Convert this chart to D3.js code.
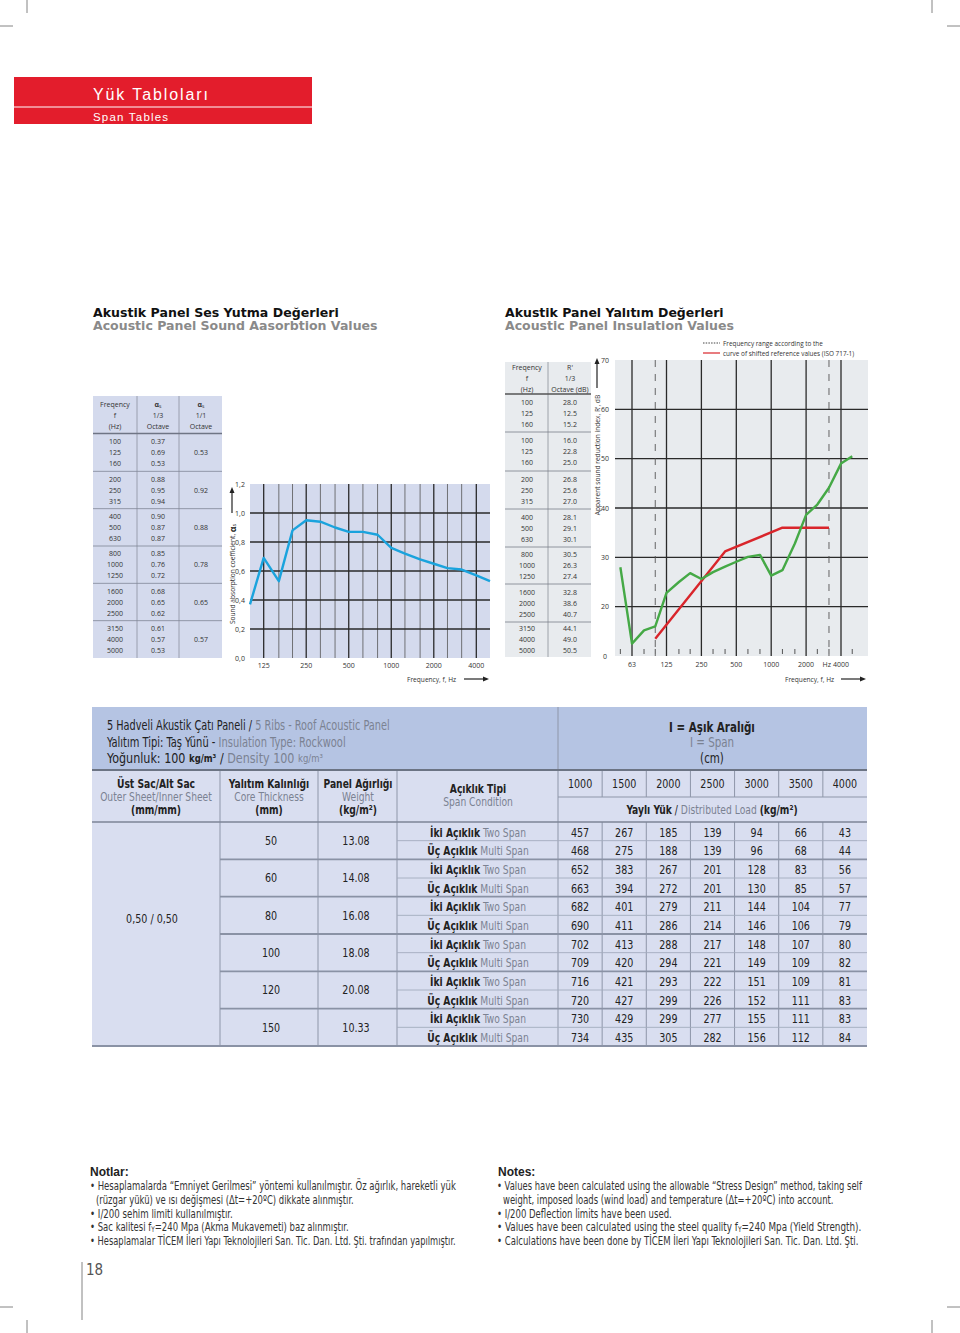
<!DOCTYPE html>
<html><head><meta charset="utf-8">
<script src="https://cdn.jsdelivr.net/npm/d3@7"></script>
<style>body{margin:0;background:#fff}svg{display:block}</style>
</head><body>
<script>
// ---------------- DATA ----------------
const absFreq=[100,125,160,200,250,315,400,500,630,800,1000,1250,1600,2000,2500,3150,4000,5000];
const absThird=[0.37,0.69,0.53,0.88,0.95,0.94,0.90,0.87,0.87,0.85,0.76,0.72,0.68,0.65,0.62,0.61,0.57,0.53];
const absOctave=[0.53,0.92,0.88,0.78,0.65,0.57];
const absXTicks=[125,250,500,1000,2000,4000];
const absYTicks=[0,0.2,0.4,0.6,0.8,1.0,1.2];

const insTableFreq=["100","125","160","100","125","160","200","250","315","400","500","630","800","1000","1250","1600","2000","2500","3150","4000","5000"];
const insTableR=["28.0","12.5","15.2","16.0","22.8","25.0","26.8","25.6","27.0","28.1","29.1","30.1","30.5","26.3","27.4","32.8","38.6","40.7","44.1","49.0","50.5"];
const insFreq=[50,63,80,100,125,160,200,250,315,400,500,630,800,1000,1250,1600,2000,2500,3150,4000,5000];
const insR=[28.0,12.5,15.2,16.0,22.8,25.0,26.8,25.6,27.0,28.1,29.1,30.1,30.5,26.3,27.4,32.8,38.6,40.7,44.1,49.0,50.5];
const refFreq=[100,400,1250,3150];
const refR=[13.5,31.2,36.0,36.0];
const insXTicks=[63,125,250,500,1000,2000,4000];
const insMinor=[50,80,100,160,200,315,400,630,800,1250,1600,2500,3150,5000];
const insDashed=[100,3150];
const insYTicks=[10,20,30,40,50,60,70];
const insYLabels=["0","20","30","40","50","60","70"];

const spans=[1000,1500,2000,2500,3000,3500,4000];
const thickness=[50,60,80,100,120,150];
const weights=["13.08","14.08","16.08","18.08","20.08","10.33"];
const loadTwo=[[457,267,185,139,94,66,43],[652,383,267,201,128,83,56],[682,401,279,211,144,104,77],[702,413,288,217,148,107,80],[716,421,293,222,151,109,81],[730,429,299,277,155,111,83]];
const loadMulti=[[468,275,188,139,96,68,44],[663,394,272,201,130,85,57],[690,411,286,214,146,106,79],[709,420,294,221,149,109,82],[720,427,299,226,152,111,83],[734,435,305,282,156,112,84]];

const notesTR=[
 ["• Hesaplamalarda “Emniyet Gerilmesi” yöntemi kullanılmıştır. Öz ağırlık, hareketli yük",0],
 ["(rüzgar yükü) ve ısı değişmesi (Δt=+20ºC) dikkate alınmıştır.",1],
 ["• I/200 sehim limiti kullanılmıştır.",0],
 ["• Sac kalitesi f|Y|=240 Mpa (Akma Mukavemeti) baz alınmıştır.",0],
 ["• Hesaplamalar TİCEM İleri Yapı Teknolojileri San. Tic. Dan. Ltd. Şti. trafından  yapılmıştır.",0]];
const notesEN=[
 ["• Values have been calculated using the allowable “Stress Design” method, taking self",0],
 ["weight, imposed loads (wind load) and temperature (Δt=+20ºC) into account.",1],
 ["• I/200 Deflection limits have been used.",0],
 ["• Values have been calculated using the steel quality f|Y|=240 Mpa (Yield Strength).",0],
 ["• Calculations have been done by TİCEM İleri Yapı Teknolojileri San. Tic. Dan. Ltd. Şti.",0]];

// ---------------- HELPERS ----------------
const SANS="'Open Sans','DejaVu Sans',sans-serif";
const COND="'Liberation Sans Narrow','DejaVu Sans Condensed',sans-serif";
const WIDE="'DejaVu Sans','Verdana',sans-serif";
const svg=d3.select("body").append("svg").attr("width",960).attr("height",1333);

// horizontal fit through a group transform (keeps all glyph boxes consistent)
function fit(g,x,y,t,o){
  let f=1;
  if(o.w||o.sx){const Lw=t.node().getComputedTextLength(); f=o.w?o.w/Lw:o.sx;}
  g.attr("transform",`translate(${x},${y}) scale(${f},1)`);
}
function T(p,x,y,s,o={}){
  const g=p.append("g");
  const t=g.append("text").attr("x",0).attr("y",0).text(s)
    .attr("font-family",o.ff||SANS).attr("font-size",o.fs||7)
    .attr("fill",o.fill||"#333").attr("text-anchor",o.a||"start")
    .attr("dominant-baseline","central");
  if(o.fw) t.attr("font-weight",o.fw);
  if(o.ls) t.attr("letter-spacing",o.ls);
  fit(g,x,y,t,o);
  return g;
}
function RT(p,x,y,parts,o={}){
  const g=p.append("g");
  const t=g.append("text").attr("x",0).attr("y",0)
    .attr("font-family",o.ff||COND).attr("font-size",o.fs||12)
    .attr("text-anchor",o.a||"start").attr("dominant-baseline","central");
  parts.forEach(q=>{
    const s=t.append("tspan").text(q.t).attr("fill",q.fill||"#222");
    if(q.fw) s.attr("font-weight",q.fw);
    if(q.fs) s.attr("font-size",q.fs);
    if(q.dy) s.attr("dy",q.dy);
  });
  fit(g,x,y,t,o);
  return g;
}
function L(g,x1,y1,x2,y2,c,w,da){const l=g.append("line").attr("x1",x1).attr("y1",y1).attr("x2",x2).attr("y2",y2).attr("stroke",c).attr("stroke-width",w);if(da)l.attr("stroke-dasharray",da);return l;}
function arrowR(g,x1,x2,y){L(g,x1,y,x2-5,y,"#222",1.2);g.append("path").attr("d",`M${x2},${y}L${x2-6},${y-2.5}L${x2-6},${y+2.5}Z`).attr("fill","#222");}
function arrowU(g,x,y1,y2){L(g,x,y1,x,y2+5,"#222",1.2);g.append("path").attr("d",`M${x},${y2}L${x-2.5},${y2+6}L${x+2.5},${y2+6}Z`).attr("fill","#222");}
function rotLabel(p,x,y,node){node.attr("transform",`translate(${x},${y}) rotate(-90)`);}

// ---------------- CROP MARKS ----------------
const cm=svg.append("g");
[[27,0,27,13],[0,26,13,26],[932,0,932,13],[947,26,960,26],[27,1320,27,1333],[0,1307,13,1307],[932,1320,932,1333],[947,1307,960,1307]]
 .forEach(d=>L(cm,d[0],d[1],d[2],d[3],"#666",0.8));

// ---------------- BANNER ----------------
const bn=svg.append("g");
bn.append("rect").attr("x",14).attr("y",77).attr("width",298).attr("height",47).attr("fill","#e31d2c");
L(bn,14,107,312,107,"#fff",1);
T(bn,93,94,"Yük Tabloları",{ff:"'Liberation Sans','Roboto',sans-serif",fs:16,fill:"#fff",ls:1.9});
T(bn,93,117,"Span Tables",{ff:"'Liberation Sans','Roboto',sans-serif",fs:11.5,fill:"#fff",ls:1.2});

// ---------------- TITLES ----------------
T(svg,93,313,"Akustik Panel Ses Yutma Değerleri",{ff:WIDE,fs:11.5,fw:"bold",fill:"#111",w:246});
T(svg,93,326,"Acoustic Panel Sound Aasorbtion Values",{ff:WIDE,fs:11.5,fw:"bold",fill:"#8a8a8a",w:285});
T(svg,505,313,"Akustik Panel Yalıtım Değerleri",{ff:WIDE,fs:11.5,fw:"bold",fill:"#111",w:219});
T(svg,505,326,"Acoustic Panel Insulation Values",{ff:WIDE,fs:11.5,fw:"bold",fill:"#8a8a8a",w:229});

// ---------------- ABSORPTION TABLE ----------------
const at=svg.append("g");
at.append("rect").attr("x",93).attr("y",396).attr("width",129).attr("height",262).attr("fill","#d4daed");
L(at,137,396,137,658,"#8a90a0",0.8);L(at,179,396,179,658,"#8a90a0",0.8);
L(at,93,433.5,222,433.5,"#6f7585",1.3);
const aGroupY=d3.scaleBand().domain(d3.range(6)).range([434,658]);
d3.range(1,6).forEach(i=>L(at,93,aGroupY(i),222,aGroupY(i),"#7f8595",0.8));
[["Freqency","f","(Hz)",115],["α","1/3","Octave",158],["α","1/1","Octave",201]].forEach(c=>{
  if(c[0]==="α"){RT(at,c[3],404,[{t:"α",fill:"#333",fw:"bold"},{t:"s",fs:5,dy:1.5,fill:"#333"}],{ff:SANS,fs:7,a:"middle"});}
  else T(at,c[3],404,c[0],{a:"middle"});
  T(at,c[3],415,c[1],{a:"middle"});T(at,c[3],426,c[2],{a:"middle"});
});
absFreq.forEach((f,i)=>{
  const g=Math.floor(i/3), r=i%3, y=aGroupY(g)+aGroupY.bandwidth()/2+(r-1)*11;
  T(at,115,y,String(f),{a:"middle"});
  T(at,158,y,absThird[i].toFixed(2),{a:"middle"});
});
absOctave.forEach((v,g)=>T(at,201,aGroupY(g)+aGroupY.bandwidth()/2,v.toFixed(2),{a:"middle"}));

// ---------------- ABSORPTION CHART ----------------
const ac=svg.append("g");
const xA=d3.scaleLog().domain([100,5000]).range([250,490]);
const yA=d3.scaleLinear().domain([0,1.2]).range([658,484]);
ac.append("rect").attr("x",xA(100)).attr("y",yA(1.2)).attr("width",xA(5000)-xA(100)).attr("height",yA(0)-yA(1.2)).attr("fill","#d4daed");
absFreq.filter(f=>f>=125&&f<=4000).forEach(f=>{
  const oct=absXTicks.includes(f);
  L(ac,xA(f),yA(1.2),xA(f),yA(0),oct?"#2a2a2a":"#555",oct?1.3:0.8);
});
absYTicks.filter(v=>v>0&&v<1.2).forEach(v=>L(ac,xA(100),yA(v),xA(5000),yA(v),"#2a2a2a",1.3));
absYTicks.forEach(v=>T(ac,240,yA(v),v.toFixed(1).replace(".",","),{a:"middle",fs:7}));
absXTicks.forEach(f=>T(ac,xA(f),665,String(f),{a:"middle",fs:7}));
ac.append("path").datum(absFreq.map((f,i)=>[f,absThird[i]]))
  .attr("d",d3.line().x(d=>xA(d[0])).y(d=>yA(d[1])))
  .attr("fill","none").attr("stroke","#1aa3dd").attr("stroke-width",2.4).attr("stroke-linejoin","round");
rotLabel(ac,232,574,RT(ac,0,0,[{t:"Sound absorption coefficient, ",fill:"#333"},{t:"α",fw:"bold",fs:9,fill:"#222"},{t:"s",fs:5,dy:1.5,fill:"#222"}],{ff:SANS,fs:6.6,a:"middle"}));
arrowU(ac,232,513,487);
T(ac,407,679,"Frequency, f, Hz",{fs:6.6});
arrowR(ac,464,489,679);

// ---------------- INSULATION TABLE ----------------
const it=svg.append("g");
it.append("rect").attr("x",505).attr("y",362).attr("width",86).attr("height",295).attr("fill","#e8ebee");
L(it,548,362,548,657,"#8a8f98",0.8);
const iLines=[394,432,471,509,547,584,622];
iLines.forEach((y,i)=>L(it,505,y,591,y,i===0?"#555":"#7a7f88",i===0?1.3:0.8));
T(it,527,367,"Freqency",{a:"middle"});T(it,527,378,"f",{a:"middle"});T(it,527,389,"(Hz)",{a:"middle"});
T(it,570,367,"R'",{a:"middle"});T(it,570,378,"1/3",{a:"middle"});T(it,570,389,"Octave (dB)",{a:"middle"});
insTableFreq.forEach((f,i)=>{
  const g=Math.floor(i/3), r=i%3, top=iLines[g], bot=g<6?iLines[g+1]:657;
  const y=(top+bot)/2+(r-1)*11;
  T(it,527,y,f,{a:"middle"});
  T(it,570,y,insTableR[i],{a:"middle"});
});

// ---------------- INSULATION CHART ----------------
const ic=svg.append("g");
const xB=d3.scaleLog().domain([63,4000]).range([632,841]);
const yB=d3.scaleLinear().domain([10,70]).range([656,360]);
const bx0=615,bx1=868;
ic.append("rect").attr("x",bx0).attr("y",yB(70)).attr("width",bx1-bx0).attr("height",yB(10)-yB(70)).attr("fill","#e8ebee");
insYTicks.filter(v=>v>10&&v<70).forEach(v=>L(ic,bx0,yB(v),bx1,yB(v),"#2a2a2a",1.3));
insXTicks.forEach(f=>L(ic,xB(f),yB(70),xB(f),yB(10),"#2a2a2a",1.3));
insDashed.forEach(f=>L(ic,xB(f),yB(70),xB(f),yB(10),"#555",0.9,"7,7"));
insMinor.forEach(f=>L(ic,xB(f),yB(10)-7,xB(f),yB(10)-2,"#444",0.9));
insYTicks.forEach((v,i)=>T(ic,605,yB(v),insYLabels[i],{a:"middle",fs:7}));
insXTicks.forEach(f=>T(ic,xB(f),664,String(f),{a:"middle",fs:7}));
T(ic,xB(4000)-10,664,"Hz",{a:"end",fs:7});
ic.append("path").datum(refFreq.map((f,i)=>[f,refR[i]]))
  .attr("d",d3.line().x(d=>xB(d[0])).y(d=>yB(d[1])))
  .attr("fill","none").attr("stroke","#d9252b").attr("stroke-width",2.4).attr("stroke-linejoin","round");
ic.append("path").datum(insFreq.map((f,i)=>[f,insR[i]]))
  .attr("d",d3.line().x(d=>xB(d[0])).y(d=>yB(d[1])))
  .attr("fill","none").attr("stroke","#45a946").attr("stroke-width",2.4).attr("stroke-linejoin","round");
rotLabel(ic,597,455,T(ic,0,0,"Apparent sound reduction index, R', dB",{fs:6.6,a:"middle"}));
arrowU(ic,597,388,358);
T(ic,785,679,"Frequency, f, Hz",{fs:6.6});
arrowR(ic,841,866,679);
L(ic,703,343,720,343,"#444",1,"1.5,1.2");
T(ic,723,343,"Frequency range according to the",{fs:6.4});
L(ic,703,353,720,353,"#d9252b",1.2);
T(ic,723,353,"curve of shifted reference values (ISO 717-1)",{fs:6.4});

// ---------------- LOAD TABLE ----------------
const tb=svg.append("g");
const TX0=92,TX1=867;
const colX=[92,220,318,397,558];
const xs=d3.scaleBand().domain(spans).range([558,867]);
const ry=d3.scaleBand().domain(d3.range(12)).range([822,1046]);
const GR="#7b8292", DK="#222";
tb.append("rect").attr("x",TX0).attr("y",707).attr("width",TX1-TX0).attr("height",63).attr("fill","#b5c4e3");
tb.append("rect").attr("x",TX0).attr("y",770).attr("width",TX1-TX0).attr("height",276).attr("fill","#d9def0");
const gc="#8e96a9";
L(tb,558,707,558,770,gc,1);
colX.slice(1).forEach(x=>L(tb,x,770,x,1046,gc,1));
spans.slice(1).forEach(s=>{L(tb,xs(s),770,xs(s),797,gc,1);L(tb,xs(s),822,xs(s),1046,gc,1);});
L(tb,558,797,TX1,797,gc,1);
L(tb,TX0,822,TX1,822,"#7d8597",1.3);
d3.range(1,12).forEach(r=>{
  if(r%2===0) L(tb,220,ry(r),TX1,ry(r),"#8a92a5",1.8);
  else L(tb,397,ry(r),TX1,ry(r),"#a3abbd",0.9);
});
L(tb,TX0,1046,TX1,1046,"#8a92a5",1.8);
L(tb,TX0,770,TX1,770,"#6c7484",2.2);
RT(tb,107,724,[{t:"5 Hadveli Akustik Çatı Paneli / ",fill:DK},{t:"5 Ribs - Roof Acoustic Panel",fill:GR}],{fs:14.5,w:283});
RT(tb,107,741,[{t:"Yalıtım Tipi: Taş Yünü - ",fill:DK},{t:"Insulation Type: Rockwool",fill:GR}],{fs:14.5,w:239});
RT(tb,107,758,[{t:"Yoğunluk: 100 ",fill:DK},{t:"kg/m³",fill:DK,fw:"bold",fs:11},{t:" / ",fill:DK},{t:"Density 100 ",fill:GR},{t:"kg/m³",fill:GR,fs:11}],{fs:14.5,w:216});
RT(tb,712,727,[{t:"I = Aşık Aralığı",fill:DK,fw:"bold"}],{fs:13.5,a:"middle",sx:0.85});
RT(tb,712,742,[{t:"I = Span",fill:GR}],{fs:13.5,a:"middle",sx:0.85});
RT(tb,712,758,[{t:"(cm)",fill:DK}],{fs:13.5,a:"middle",sx:0.85});
const hdr=[[156,["Üst Sac/Alt Sac","Outer Sheet/Inner Sheet","(mm/mm)"]],[269,["Yalıtım Kalınlığı","Core Thickness","(mm)"]],[358,["Panel Ağırlığı","Weight","(kg/m²)"]]];
hdr.forEach(h=>{
  RT(tb,h[0],784,[{t:h[1][0],fill:DK,fw:"bold"}],{fs:12,a:"middle",sx:0.85});
  RT(tb,h[0],797,[{t:h[1][1],fill:GR}],{fs:12,a:"middle",sx:0.85});
  RT(tb,h[0],810,[{t:h[1][2],fill:DK,fw:"bold"}],{fs:12,a:"middle",sx:0.85});
});
RT(tb,478,789,[{t:"Açıklık Tipi",fill:DK,fw:"bold"}],{fs:12,a:"middle",sx:0.85});
RT(tb,478,802,[{t:"Span Condition",fill:GR}],{fs:12,a:"middle",sx:0.85});
spans.forEach(s=>RT(tb,xs(s)+xs.bandwidth()/2,784,[{t:String(s),fill:DK}],{fs:12.5,a:"middle",sx:0.85}));
RT(tb,712,810,[{t:"Yaylı Yük",fill:DK,fw:"bold"},{t:" / ",fill:DK},{t:"Distributed Load ",fill:GR},{t:"(kg/m²)",fill:DK,fw:"bold"}],{fs:12,a:"middle",sx:0.85});
RT(tb,152,919,[{t:"0,50 / 0,50",fill:DK}],{fs:12.5,a:"middle",sx:0.85});
thickness.forEach((t,g)=>{
  const yc=ry(2*g+1);
  RT(tb,271,yc,[{t:String(t),fill:DK}],{fs:12.5,a:"middle",sx:0.85});
  RT(tb,356,yc,[{t:weights[g],fill:DK}],{fs:12.5,a:"middle",sx:0.85});
  [[loadTwo,"İki Açıklık"," Two Span"],[loadMulti,"Üç Açıklık"," Multi Span"]].forEach((k,j)=>{
    const r=2*g+j, y=ry(r)+ry.bandwidth()/2+1;
    RT(tb,478,y,[{t:k[1],fill:DK,fw:"bold"},{t:k[2],fill:GR}],{fs:12,a:"middle",sx:0.85});
    k[0][g].forEach((v,c)=>RT(tb,xs(spans[c])+xs.bandwidth()/2,y,[{t:String(v),fill:DK}],{fs:12.5,a:"middle",sx:0.85}));
  });
});

// ---------------- NOTES ----------------
const nt=svg.append("g");
T(nt,90,1172,"Notlar:",{ff:"'Liberation Sans',sans-serif",fs:12,fw:"bold",fill:"#222"});
T(nt,498,1172,"Notes:",{ff:"'Liberation Sans',sans-serif",fs:12,fw:"bold",fill:"#222"});
function noteLines(arr,x0,widths){
  arr.forEach((n,i)=>{
    const segs=n[0].split("|");
    const parts=segs.map((s,k)=>k===1?{t:s,fill:"#333",fs:8,dy:2}:(k===2?{t:s,fill:"#333",dy:-2}:{t:s,fill:"#333"}));
    RT(nt,x0+(n[1]?6:0),1186+i*13.6,parts,{fs:12,w:widths[i]});
  });
}
noteLines(notesTR,90,[366,258,143,259,366]);
noteLines(notesEN,497,[365,331,175,365,362]);

L(svg,82,1262,82,1320,"#666",0.8);
T(svg,86,1270,"18",{ff:COND,fs:15,fill:"#555"});
</script>
</body></html>
